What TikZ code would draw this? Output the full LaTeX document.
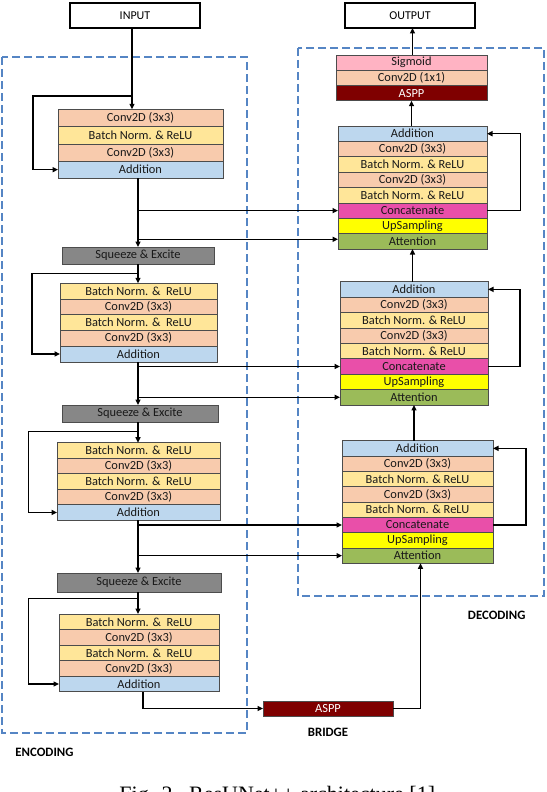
\documentclass[tikz,border=0pt]{standalone}
\usepackage{fontspec}
\setmainfont{Carlito}
\newfontfamily\capfont{Liberation Serif}
\usetikzlibrary{arrows.meta}
\definecolor{convc}{HTML}{F8CBAD}
\definecolor{bnc}{HTML}{FFE699}
\definecolor{addc}{HTML}{BDD7EE}
\definecolor{catc}{HTML}{E94FA9}
\definecolor{upc}{HTML}{FFFF00}
\definecolor{attc}{HTML}{9BBB59}
\definecolor{sec}{HTML}{878787}
\definecolor{asppc}{HTML}{7F0000}
\definecolor{sigc}{HTML}{FFB3C3}
\definecolor{dashc}{HTML}{5585C4}
\begin{document}
\begin{tikzpicture}[x=1pt,y=-1pt,
  rowbox/.style={draw=black!70, line width=0.6pt, inner sep=0pt, outer sep=0pt, anchor=north west, font=\fontsize{12.4}{13}\selectfont, text=black!90},
  conv/.style={rowbox, fill=convc},
  bn/.style={rowbox, fill=bnc},
  addn/.style={rowbox, fill=addc},
  cat/.style={rowbox, fill=catc},
  ups/.style={rowbox, fill=upc},
  att/.style={rowbox, fill=attc},
  sebox/.style={rowbox, fill=sec},
  asppbox/.style={rowbox, fill=asppc, text=white},
  sig/.style={rowbox, fill=sigc},
  iobox/.style={draw=black, line width=2.6pt, inner sep=0pt, outer sep=0pt, anchor=north west, font=\fontsize{12}{13}\selectfont, minimum width=130pt, minimum height=25pt},
  region/.style={draw=dashc, line width=2.4pt, dash pattern=on 8pt off 4pt},
  lab/.style={font=\bfseries\fontsize{12.8}{14}\selectfont},
  wire/.style={line width=1.4pt},
  arr/.style={wire, -{Triangle[length=5.5pt,width=5pt]}}
]
\useasboundingbox (0,0) rectangle (546,792);
\fill[white] (0,0) rectangle (546,792);

% regions
\draw[region] (2,57) rectangle (247,733);
\draw[region] (298,48) rectangle (544,596);

% input / output
\node[iobox] (in) at (70,3) {INPUT};
\node[iobox] (out) at (345,3) {OUTPUT};

% encoder block 1
\begin{scope}[every node/.append style={minimum width=165pt, minimum height=17.25pt}]
\node[conv] (e1a) at (58,109.3) {Conv2D (3x3)};
\node[bn]   (e1b) at (e1a.south west) {Batch Norm. \& ReLU};
\node[conv] (e1c) at (e1b.south west) {Conv2D (3x3)};
\node[addn] (e1d) at (e1c.south west) {Addition};
\end{scope}
\node[sebox, minimum width=152pt, minimum height=17pt] (se1) at (62,247) {Squeeze \& Excite};

% encoder block 2
\begin{scope}[every node/.append style={minimum width=157pt, minimum height=15.7pt}]
\node[bn]   (e2a) at (60,283.3) {Batch Norm. \&\ \ ReLU};
\node[conv] (e2b) at (e2a.south west) {Conv2D (3x3)};
\node[bn]   (e2c) at (e2b.south west) {Batch Norm. \&\ \ ReLU};
\node[conv] (e2d) at (e2c.south west) {Conv2D (3x3)};
\node[addn] (e2e) at (e2d.south west) {Addition};
\end{scope}
\node[sebox, minimum width=156pt, minimum height=17pt] (se2) at (62,405) {Squeeze \& Excite};

% encoder block 3
\begin{scope}[every node/.append style={minimum width=163pt, minimum height=15.5pt}]
\node[bn]   (e3a) at (57,442.7) {Batch Norm. \&\ \ ReLU};
\node[conv] (e3b) at (e3a.south west) {Conv2D (3x3)};
\node[bn]   (e3c) at (e3b.south west) {Batch Norm. \&\ \ ReLU};
\node[conv] (e3d) at (e3c.south west) {Conv2D (3x3)};
\node[addn] (e3e) at (e3d.south west) {Addition};
\end{scope}
\node[sebox, minimum width=164pt, minimum height=19pt] (se3) at (57,573) {Squeeze \& Excite};

% encoder block 4
\begin{scope}[every node/.append style={minimum width=160pt, minimum height=15.55pt}]
\node[bn]   (e4a) at (59,614) {Batch Norm. \&\ \ ReLU};
\node[conv] (e4b) at (e4a.south west) {Conv2D (3x3)};
\node[bn]   (e4c) at (e4b.south west) {Batch Norm. \&\ \ ReLU};
\node[conv] (e4d) at (e4c.south west) {Conv2D (3x3)};
\node[addn] (e4e) at (e4d.south west) {Addition};
\end{scope}

% bridge
\node[asppbox, minimum width=130pt, minimum height=15pt] (br) at (263,701) {ASPP};

% output stack
\begin{scope}[every node/.append style={minimum width=151pt, minimum height=15.23pt}]
\node[sig]     (o1) at (336,55) {Sigmoid};
\node[conv]    (o2) at (o1.south west) {Conv2D (1x1)};
\node[asppbox] (o3) at (o2.south west) {ASPP};
\end{scope}

% decoder block 1
\begin{scope}[every node/.append style={minimum width=149pt, minimum height=15.38pt}]
\node[addn] (d1a) at (338,126) {Addition};
\node[conv] (d1b) at (d1a.south west) {Conv2D (3x3)};
\node[bn]   (d1c) at (d1b.south west) {Batch Norm. \& ReLU};
\node[conv] (d1d) at (d1c.south west) {Conv2D (3x3)};
\node[bn]   (d1e) at (d1d.south west) {Batch Norm. \& ReLU};
\node[cat]  (d1f) at (d1e.south west) {Concatenate};
\node[ups]  (d1g) at (d1f.south west) {UpSampling};
\node[att]  (d1h) at (d1g.south west) {Attention};
\end{scope}

% decoder block 2
\begin{scope}[every node/.append style={minimum width=148pt, minimum height=15.41pt}]
\node[addn] (d2a) at (340,281.7) {Addition};
\node[conv] (d2b) at (d2a.south west) {Conv2D (3x3)};
\node[bn]   (d2c) at (d2b.south west) {Batch Norm. \& ReLU};
\node[conv] (d2d) at (d2c.south west) {Conv2D (3x3)};
\node[bn]   (d2e) at (d2d.south west) {Batch Norm. \& ReLU};
\node[cat]  (d2f) at (d2e.south west) {Concatenate};
\node[ups]  (d2g) at (d2f.south west) {UpSampling};
\node[att]  (d2h) at (d2g.south west) {Attention};
\end{scope}

% decoder block 3
\begin{scope}[every node/.append style={minimum width=151pt, minimum height=15.33pt}]
\node[addn] (d3a) at (342,440.7) {Addition};
\node[conv] (d3b) at (d3a.south west) {Conv2D (3x3)};
\node[bn]   (d3c) at (d3b.south west) {Batch Norm. \& ReLU};
\node[conv] (d3d) at (d3c.south west) {Conv2D (3x3)};
\node[bn]   (d3e) at (d3d.south west) {Batch Norm. \& ReLU};
\node[cat]  (d3f) at (d3e.south west) {Concatenate};
\node[ups]  (d3g) at (d3f.south west) {UpSampling};
\node[att]  (d3h) at (d3g.south west) {Attention};
\end{scope}

% ---------- connectors ----------
\coordinate (sp) at (138,0);
\coordinate (inb) at (132,0);
\coordinate (k1) at (132,96);
\coordinate (k2) at (138,273.3);
\coordinate (k3) at (138,431.7);
\coordinate (k4) at (138,598.3);

% input into block 1
\draw[arr] (inb |- in.south) -- (inb |- e1a.north);
\draw[arr] (k1) -- (33,96) |- (e1d.west);

% block 1 -> SE1 and skip connections
\draw[arr] (sp |- e1d.south) -- (sp |- se1.north);
\draw[arr] (sp |- d1f.west) -- (d1f.west);
\draw[arr] (sp |- 0,239.3) -- (d1h.west |- 0,239.3);

% SE1 -> block 2
\draw[arr] (sp |- se1.south) -- (sp |- e2a.north);
\draw[arr] (k2) -- (32,273.3) |- (e2e.west);
\draw[arr] (sp |- e2e.south) -- (sp |- se2.north);
\draw[arr] (sp |- d2f.west) -- (d2f.west);
\draw[arr] (sp |- d2h.west) -- (d2h.west);

% SE2 -> block 3
\draw[arr] (sp |- se2.south) -- (sp |- e3a.north);
\draw[arr] (k3) -- (28.5,431.7) |- (e3e.west);
\draw[arr] (sp |- e3e.south) -- (sp |- se3.north);
\draw[arr] (sp |- d3f.west) -- (d3f.west);
\draw[arr] (sp |- d3h.west) -- (d3h.west);

% SE3 -> block 4
\draw[arr] (sp |- se3.south) -- (sp |- e4a.north);
\draw[arr] (k4) -- (28.5,598.3) |- (e4e.west);

% block 4 -> bridge -> decoder
\draw[arr] ([xshift=4pt]e4e.south) |- (br.west);
\draw[arr] (br.east) -| ([xshift=3pt]d3h.south);

% decoder ups
\draw[arr] (d2h.south |- d3a.north) -- (d2h.south);
\draw[arr] (d1h.south |- d2a.north) -- (d1h.south);
\draw[arr] (o3.south |- d1a.north) -- (o3.south);
\draw[arr] ([xshift=1pt]o1.north) -- ([xshift=1pt]o1.north |- out.south);

% decoder residual loops
\draw[arr] (d1f.east) -- ++(33.5,0) |- (d1a.east);
\draw[arr] (d2f.east) -- ++(32,0) |- (d2a.east);
\draw[arr] (d3f.east) -- ++(33,0) |- (d3a.east);

% labels
\node[lab] (lenc) at (44.5,752.7) {ENCODING};
\node[lab] (lbr) at (328,732.7) {BRIDGE};
\node[lab] (ldec) at (496.7,615.7) {DECODING};

% caption (cut by the page edge as in the reference)
\node[font=\capfont\fontsize{22}{24}\selectfont, anchor=base, inner sep=0pt] (cap) at (280,801) {Fig. 2.\ \ ResUNet++ architecture [1].};
\end{tikzpicture}
\end{document}
